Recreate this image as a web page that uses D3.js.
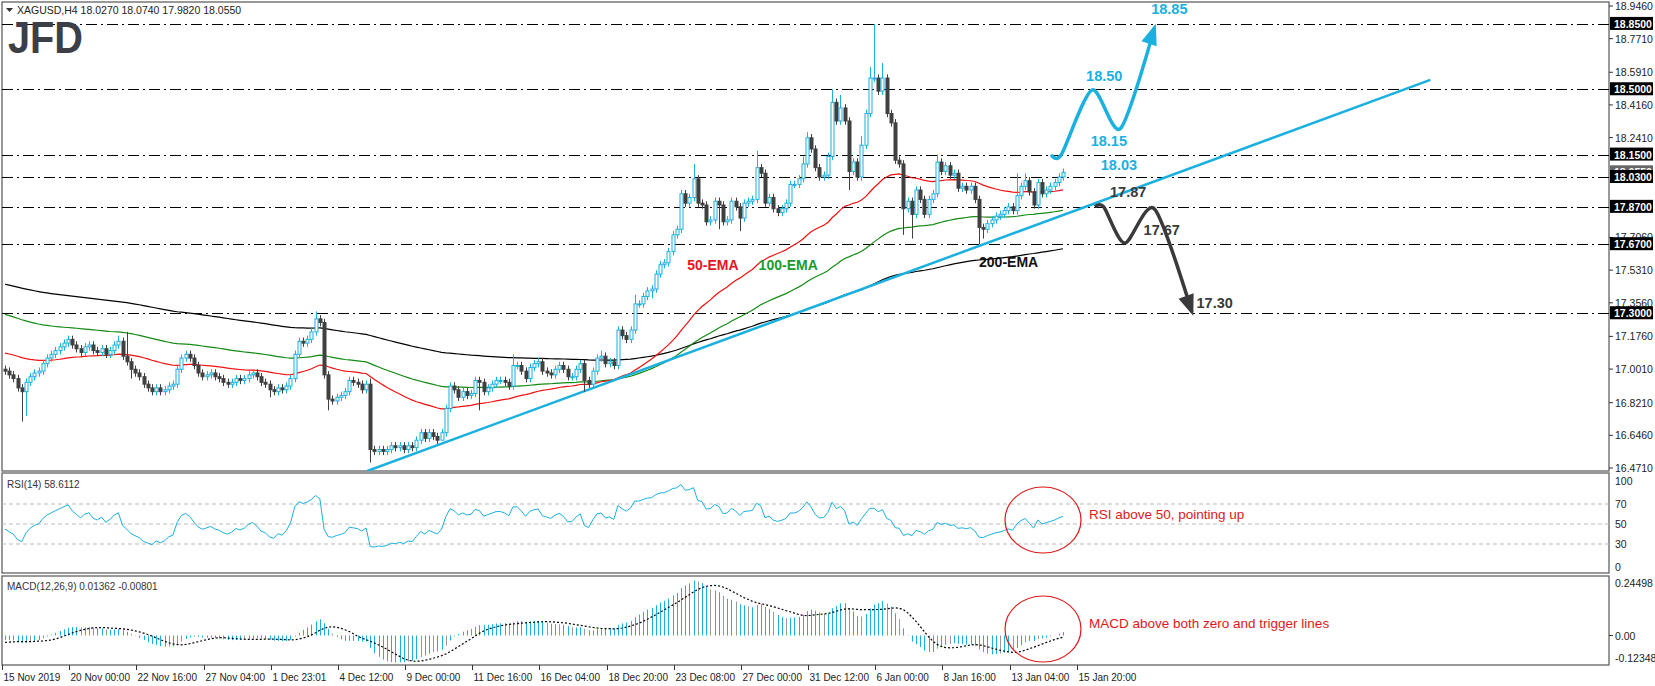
<!DOCTYPE html>
<html><head><meta charset="utf-8">
<script src="https://cdn.jsdelivr.net/npm/d3@7"></script>
<style>body{margin:0;background:#fff}svg{display:block}text{font-family:"Liberation Sans",Arial,sans-serif}</style>
</head><body><svg id="c" width="1655" height="686"></svg>
<script>
// ---------------- DATA ----------------
const closes = [
16.99,16.97,16.95,16.90,16.88,16.93,16.96,16.98,16.99,17.03,17.06,17.08,17.10,17.12,17.14,17.16,17.13,17.11,17.09,17.12,
17.13,17.10,17.09,17.11,17.08,17.10,17.13,17.15,17.07,17.04,17.00,16.98,16.96,16.92,16.90,16.88,16.90,16.88,16.89,16.91,
16.92,17.00,17.06,17.08,17.06,17.02,16.98,16.96,16.97,16.98,16.96,16.95,16.93,16.92,16.93,16.95,16.94,16.95,16.97,16.98,
16.96,16.93,16.92,16.89,16.88,16.90,16.89,16.91,16.95,17.08,17.15,17.14,17.16,17.20,17.27,17.25,16.97,16.84,16.83,16.85,
16.86,16.88,16.94,16.93,16.92,16.89,16.92,16.57,16.56,16.57,16.56,16.57,16.59,16.58,16.59,16.57,16.59,16.58,16.62,16.66,
16.63,16.66,16.64,16.62,16.66,16.79,16.91,16.89,16.85,16.88,16.86,16.87,16.94,16.93,16.88,16.90,16.92,16.94,16.94,16.93,
16.91,17.02,17.02,16.99,16.95,17.01,17.03,17.04,16.99,16.98,16.97,17.00,17.02,17.00,16.96,16.96,17.00,17.03,16.94,16.92,
16.99,17.06,17.07,17.03,17.04,17.02,17.21,17.18,17.16,17.21,17.35,17.35,17.39,17.42,17.43,17.51,17.56,17.57,17.63,17.72,
17.75,17.94,17.89,17.92,18.02,17.89,17.88,17.79,17.80,17.90,17.88,17.79,17.80,17.90,17.87,17.81,17.89,17.90,17.91,18.08,
18.05,17.89,17.92,17.86,17.84,17.86,17.89,17.99,17.99,18.02,18.10,18.24,18.18,18.08,18.03,18.04,18.14,18.43,18.33,18.40,
18.33,18.06,18.11,18.03,18.20,18.37,18.56,18.56,18.49,18.56,18.37,18.32,18.12,18.10,17.86,17.90,17.83,17.96,17.91,17.83,
17.91,17.94,18.11,18.06,18.09,18.04,18.05,17.97,17.98,17.96,17.98,17.91,17.76,17.75,17.78,17.80,17.82,17.83,17.85,17.87,
17.85,17.93,17.98,18.01,17.95,17.88,18.00,17.94,17.96,17.98,18.00,18.03,18.055];
const firstOpen = 17.00;
const highOverrides = {206:18.62,207:18.85,209:18.64,197:18.50,199:18.47,164:18.10,179:18.17,190:18.14,191:18.27,150:17.40,
  74:17.31,87:16.95,106:16.93,121:17.08,142:17.10,204:18.25,222:18.15,234:17.80,241:18.05,243:18.05,29:17.20,27:17.18};
const lowOverrides = {87:16.50,77:16.78,4:16.72,5:16.75,104:16.62,113:16.78,138:16.88,201:17.96,214:17.72,216:17.70,232:17.67,
  233:17.70,154:17.38,170:17.75,175:17.74,30:16.95,63:16.85};
const ema50Seed = 17.09, ema100Seed = 17.30, ema200Seed = 17.46;
const levels = [18.85, 18.50, 18.15, 18.03, 17.87, 17.67, 17.30];
const axisTicks = ["18.9460","18.7710","18.5910","18.4160","18.2410","17.7060","17.5310","17.3560","17.1760","17.0010","16.8210","16.6460","16.4710"];
const lastPrice = 18.055;
const dateLabels = ["15 Nov 2019","20 Nov 00:00","22 Nov 16:00","27 Nov 04:00","1 Dec 23:01","4 Dec 12:00","9 Dec 00:00","11 Dec 16:00",
  "16 Dec 04:00","18 Dec 20:00","23 Dec 08:00","27 Dec 00:00","31 Dec 12:00","6 Jan 00:00","8 Jan 16:00","13 Jan 04:00","15 Jan 20:00"];
const trendPts = [[86.3,16.455],[339.5,18.55]];
const bullPath = [[249.2,18.15],[251.6,18.15],[258.9,18.496],[265.7,18.29],[273.8,18.83]];
const bearPath = [[259.6,17.87],[261.7,17.87],[266.7,17.676],[273.8,17.859],[282.7,17.307]];
const bullLabels = [["18.85",273.0,18.905],["18.50",257.5,18.545],["18.15",258.6,18.195],["18.03",261.0,18.07]];
const bearLabels = [["17.87",263.2,17.925],["17.67",271.2,17.72],["17.30",283.8,17.33]];
const emaLabels = [["50-EMA",162.5,17.53,"#e8141e"],["100-EMA",179.5,17.53,"#1e9a28"],["200-EMA",232,17.55,"#111"]];
const rsiLevels = [70,50,30], rsiTicks=[100,70,50,30,0];
const macdTicks = ["0.24498","0.00","-0.12348"];

// ---------------- DERIVED ----------------
const bars = closes.map((c,i)=>{const o=i?closes[i-1]:firstOpen;
  return {i,o,c,h:highOverrides[i]??Math.max(o,c)+0.02,l:lowOverrides[i]??Math.min(o,c)-0.02};});
function ema(seed,n){const a=2/(n+1);let e=seed;return closes.map(c=>e=e+a*(c-e));}
const e50=ema(ema50Seed,50),e100=ema(ema100Seed,100),e200=ema(ema200Seed,200);
const e12=ema(16.99,12),e26=ema(17.01,26);
const macd=e12.map((v,i)=>v-e26[i]);
const sig=macd.map((v,i)=>{const s=macd.slice(Math.max(0,i-8),i+1);const pad=9-s.length;return (d3.sum(s)+pad*-0.03)/9;});
let ag=0.012,al=0.014;const rsi=closes.map((c,i)=>{const d=c-(i?closes[i-1]:firstOpen);ag=(ag*13+Math.max(d,0))/14;al=(al*13+Math.max(-d,0))/14;return 100-100/(1+ag/al);});

// ---------------- DRAW ----------------
const svg=d3.select("#c");
const L=2,R=1609;
const x=d3.scaleLinear().domain([0,252]).range([5,1063]);
const y=d3.scaleLinear().domain([16.471,18.946]).range([468,6]);
const yr=d3.scaleLinear().domain([0,100]).range([574,474]);
const ym=d3.scaleLinear().domain([-0.12348,0.24498]).range([665,577]);
const BLUE="#1ab0e0",DARK="#404040";

svg.append("clipPath").attr("id","cm").append("rect").attr("x",L).attr("y",2).attr("width",R-L).attr("height",469);
[[2,471],[473,573],[576,665]].forEach(([a,b])=>svg.append("rect").attr("x",L).attr("y",a).attr("width",R-L).attr("height",b-a)
  .attr("fill","none").attr("stroke","#555").attr("stroke-width",1.2));

const g=svg.append("g").attr("clip-path","url(#cm)");
levels.forEach(v=>g.append("line").attr("x1",L).attr("x2",R).attr("y1",Math.round(y(v))+.5).attr("y2",Math.round(y(v))+.5)
  .attr("stroke","#000").attr("stroke-dasharray","11,4,2,4"));
const ln=(arr,sc)=>d3.line().x((d,i)=>x(i)).y(d=>sc(d))(arr);
g.append("path").attr("d",ln(e200,y)).attr("fill","none").attr("stroke","#000").attr("stroke-width",1.2);
g.append("path").attr("d",ln(e100,y)).attr("fill","none").attr("stroke","#138a13").attr("stroke-width",1.2);
g.append("path").attr("d",ln(e50,y)).attr("fill","none").attr("stroke","#f01010").attr("stroke-width",1.2);
g.append("line").attr("x1",x(trendPts[0][0])).attr("y1",y(trendPts[0][1])).attr("x2",x(trendPts[1][0])).attr("y2",y(trendPts[1][1]))
  .attr("stroke",BLUE).attr("stroke-width",2.5);
bars.forEach(b=>{const up=b.c>=b.o,cx=Math.round(x(b.i))+.5,col=up?BLUE:DARK;
  g.append("line").attr("x1",cx).attr("x2",cx).attr("y1",y(b.h)).attr("y2",y(b.l)).attr("stroke",col);
  const t=y(Math.max(b.o,b.c)),bt=y(Math.min(b.o,b.c));
  g.append("rect").attr("x",cx-1.5).attr("y",t).attr("width",3).attr("height",Math.max(bt-t,1))
   .attr("fill",up?"#fff":DARK).attr("stroke",col).attr("stroke-width",1);});
const ax=d3.line().x(d=>x(d[0])).y(d=>y(d[1])).curve(d3.curveCardinal.tension(0.2));
function arrow(pts,col){
  svg.append("path").attr("d",ax(pts)).attr("fill","none").attr("stroke",col).attr("stroke-width",3.5);
  const p=pts[pts.length-1],q=pts[pts.length-2];const tx=x(p[0]),ty=y(p[1]);
  const a=Math.atan2(ty-(y(q[1])*0.3+ty*0.7),tx-(x(q[0])*0.3+tx*0.7)),s=17,w=8;
  svg.append("path").attr("d",`M${tx+Math.cos(a)*4},${ty+Math.sin(a)*4}L${tx-Math.cos(a)*s-Math.sin(a)*w},${ty-Math.sin(a)*s+Math.cos(a)*w}L${tx-Math.cos(a)*s+Math.sin(a)*w},${ty-Math.sin(a)*s-Math.cos(a)*w}Z`).attr("fill",col);
}
arrow(bullPath,BLUE);arrow(bearPath,"#3a3a3a");
const lab=(arr,col)=>arr.forEach(([t,i,v])=>svg.append("text").attr("x",x(i)).attr("y",y(v)).attr("fill",col)
  .attr("font-family","Open Sans, sans-serif").attr("font-weight","bold").attr("font-size",14.5).text(t));
lab(bullLabels,BLUE);lab(bearLabels,"#3a3a3a");
emaLabels.forEach(([t,i,v,c])=>svg.append("text").attr("x",x(i)).attr("y",y(v)).attr("fill",c)
  .attr("font-family","Open Sans, sans-serif").attr("font-weight","bold").attr("font-size",14).text(t));

const fs=10.5;
axisTicks.forEach(t=>{const yy=y(+t);svg.append("line").attr("x1",R).attr("x2",R+4).attr("y1",yy).attr("y2",yy).attr("stroke","#333");
  svg.append("text").attr("x",R+6).attr("y",yy+4).attr("font-size",fs).attr("fill","#222").text(t);});
function box(v,fill,txt){const yy=y(v);svg.append("rect").attr("x",R+1).attr("y",yy-7).attr("width",43).attr("height",13).attr("fill",fill);
  svg.append("text").attr("x",R+5).attr("y",yy+4).attr("font-size",fs).attr("fill","#fff").attr("font-weight","bold").text(txt);}
box(lastPrice,"#666",lastPrice.toFixed(4));
levels.forEach(v=>box(v,"#000",v.toFixed(4)));

svg.append("path").attr("d","M6,8h7l-3.5,4z").attr("fill","#333");
svg.append("text").attr("x",17).attr("y",14).attr("font-size",10.5).attr("fill","#222").text("XAGUSD,H4  18.0270 18.0740 17.9820 18.0550");
svg.append("text").attr("x",8).attr("y",53).attr("font-family","Roboto, sans-serif").attr("font-weight","bold").attr("font-size",44)
  .attr("textLength",75).attr("lengthAdjust","spacingAndGlyphs").attr("fill","#3c3f46").text("JFD");

rsiLevels.forEach(v=>svg.append("line").attr("x1",L).attr("x2",R).attr("y1",yr(v)).attr("y2",yr(v)).attr("stroke","#bbb").attr("stroke-dasharray","4,3"));
svg.append("path").attr("d",ln(rsi,yr)).attr("fill","none").attr("stroke",BLUE).attr("stroke-width",1);
rsiTicks.forEach(v=>svg.append("text").attr("x",R+6).attr("y",Math.min(Math.max(yr(v)+4,485),571)).attr("font-size",fs).attr("fill","#222").text(v));
svg.append("text").attr("x",7).attr("y",488).attr("font-size",10).attr("fill","#333").text("RSI(14) 58.6112");

macd.forEach((v,i)=>svg.append("line").attr("x1",Math.round(x(i))+.5).attr("x2",Math.round(x(i))+.5).attr("y1",ym(0)).attr("y2",ym(v))
  .attr("stroke",(i&&Math.abs(v)<Math.abs(macd[i-1])&&i%3===0)?"#999":BLUE).attr("stroke-width",1));
svg.append("path").attr("d",ln(sig,ym)).attr("fill","none").attr("stroke","#000").attr("stroke-width",1.2).attr("stroke-dasharray","2,2");
svg.append("line").attr("x1",R).attr("x2",R+4).attr("y1",ym(0)).attr("y2",ym(0)).attr("stroke","#333");
[[macdTicks[0],587],[macdTicks[1],ym(0)+4],[macdTicks[2],662]].forEach(([t,yy])=>svg.append("text").attr("x",R+6).attr("y",yy).attr("font-size",fs).attr("fill","#222").text(t));
svg.append("text").attr("x",7).attr("y",590).attr("font-size",10).attr("fill","#333").text("MACD(12,26,9) 0.01362 -0.00801");

[[520,"RSI above 50, pointing up"],[629,"MACD above both zero and trigger lines"]].forEach(([cy,t])=>{
  svg.append("ellipse").attr("cx",1043).attr("cy",cy).attr("rx",38).attr("ry",33).attr("fill","none").attr("stroke","#e01818").attr("stroke-width",1.2);
  svg.append("text").attr("x",1089).attr("y",cy-1).attr("font-size",13.5).attr("fill","#e01818").text(t);});

dateLabels.forEach((t,k)=>{const xx=Math.round(x(k*16))-2.5;
  svg.append("line").attr("x1",xx).attr("x2",xx).attr("y1",665).attr("y2",670).attr("stroke","#333");
  svg.append("text").attr("x",xx+1).attr("y",681).attr("font-size",10).attr("fill","#222").text(t);});
</script></body></html>
